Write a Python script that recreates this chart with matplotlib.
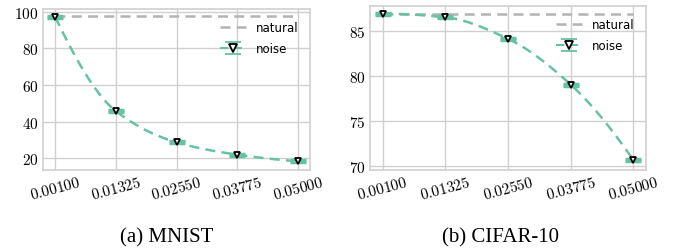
import numpy as np
import matplotlib
matplotlib.use("Agg")
import matplotlib.pyplot as plt

eps = [0.00100, 0.01325, 0.02550, 0.03775, 0.05000]
tick_labels = ["0.00100", "0.01325", "0.02550", "0.03775", "0.05000"]

mnist_noise = [97.2, 45.8, 28.7, 22.0, 18.4]
mnist_err = [0.4, 0.5, 0.5, 0.5, 0.5]
mnist_natural = 97.8

cifar_noise = [86.9, 86.5, 84.1, 79.0, 70.6]
cifar_err = [0.12, 0.12, 0.12, 0.12, 0.12]
cifar_natural = 86.9

captions = ["(a) MNIST", "(b) CIFAR-10"]

green = "#66c2a5"
gray = "#b3b3b3"

plt.rcParams["mathtext.fontset"] = "cm"
plt.rcParams["axes.unicode_minus"] = False


def pchip(x, y, n=300):
    x = np.asarray(x, float)
    y = np.asarray(y, float)
    h = np.diff(x)
    d = np.diff(y) / h
    k = len(x)
    m = np.zeros(k)
    for i in range(1, k - 1):
        if d[i - 1] * d[i] <= 0:
            m[i] = 0
        else:
            w1 = 2 * h[i] + h[i - 1]
            w2 = h[i] + 2 * h[i - 1]
            m[i] = (w1 + w2) / (w1 / d[i - 1] + w2 / d[i])

    def endslope(h0, h1, d0, d1):
        s = ((2 * h0 + h1) * d0 - h0 * d1) / (h0 + h1)
        if np.sign(s) != np.sign(d0):
            s = 0.0
        elif np.sign(d0) != np.sign(d1) and abs(s) > abs(3 * d0):
            s = 3 * d0
        return s

    m[0] = endslope(h[0], h[1], d[0], d[1])
    m[-1] = endslope(h[-1], h[-2], d[-1], d[-2])
    xs = np.linspace(x[0], x[-1], n)
    idx = np.clip(np.searchsorted(x, xs, side="right") - 1, 0, k - 2)
    t = (xs - x[idx]) / h[idx]
    h00 = 2 * t ** 3 - 3 * t ** 2 + 1
    h10 = t ** 3 - 2 * t ** 2 + t
    h01 = -2 * t ** 3 + 3 * t ** 2
    h11 = t ** 3 - t ** 2
    ys = (h00 * y[idx] + h10 * h[idx] * m[idx] + h01 * y[idx + 1]
          + h11 * h[idx] * m[idx + 1])
    return xs, ys


fig = plt.figure(figsize=(6.76, 2.51), dpi=100)
ax1 = fig.add_axes([43 / 676, 1 - 171 / 251, 267 / 676, 161 / 251])
ax2 = fig.add_axes([370 / 676, 1 - 171 / 251, 276 / 676, 164 / 251])

for ax, noise, err, nat, ylim, yt, cap, capx in [
    (ax1, mnist_noise, mnist_err, mnist_natural, (13.6, 101.5), [20, 40, 60, 80, 100], captions[0], 167 / 676),
    (ax2, cifar_noise, cifar_err, cifar_natural, (69.5, 87.75), [70, 75, 80, 85], captions[1], 500 / 676),
]:
    ax.set_facecolor("white")
    ax.grid(True, color="#d0d0d0", linewidth=1.0)
    ax.set_axisbelow(True)
    for s in ax.spines.values():
        s.set_color("#d0d0d0")
        s.set_linewidth(1.2)
    ax.plot([eps[0], eps[-1]], [nat, nat], linestyle="--", color=gray,
            linewidth=1.8, dashes=(4, 2.5), label="natural")
    xs, ys = pchip(eps, noise)
    ax.plot(xs, ys, linestyle="--", color=green, linewidth=1.8, dashes=(4, 2.5))
    ax.errorbar(eps, noise, yerr=err, fmt="none", ecolor=green, elinewidth=1.5,
                capsize=5.5, capthick=2.5)
    ax.plot(eps, noise, linestyle="none", marker="v", markersize=5,
            markerfacecolor="white", markeredgecolor="black", markeredgewidth=1.3)
    # legend proxy for noise (not drawn in the data area)
    ax.errorbar([np.nan], [np.nan], yerr=[1.0], fmt="v--", color=green, ecolor=green,
                elinewidth=1.5, capsize=6, capthick=2.8, markersize=5.5,
                markerfacecolor="white", markeredgecolor="black",
                markeredgewidth=1.3, label="noise", dashes=(4, 2.5))
    ax.set_xticks(eps)
    ax.set_xticklabels(["$" + t + "$" for t in tick_labels], rotation=15,
                       fontsize=11, ha="center")
    ax.set_yticks(yt)
    ax.set_yticklabels(["$%d$" % v for v in yt], fontsize=11)
    ax.tick_params(length=0, pad=3)
    ax.set_ylim(*ylim)
    ax.set_xlim(eps[0] - 0.05 * (eps[-1] - eps[0]), eps[-1] + 0.05 * (eps[-1] - eps[0]))
    leg = ax.legend(loc="upper right", frameon=False, fontsize=8.5,
                    handlelength=2.2, borderaxespad=0.6, labelspacing=0.7)
    fig.text(capx, 1 - 228 / 251, cap, ha="center", va="top",
             fontsize=15, family="Liberation Serif")

fig.savefig("out.png", dpi=100, facecolor="white")
